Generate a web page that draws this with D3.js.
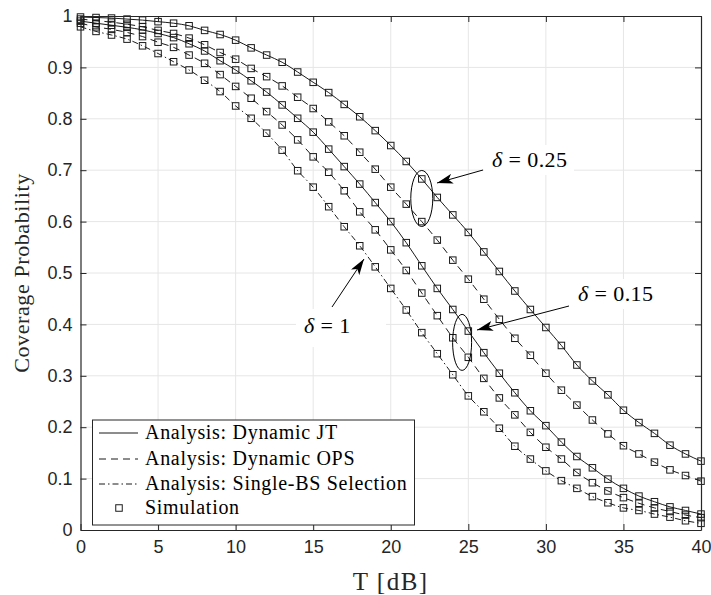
<!DOCTYPE html>
<html>
<head>
<meta charset="utf-8">
<script src="https://cdn.jsdelivr.net/npm/d3@7"></script>
<style>
  body { margin: 0; background: #fff; }
  svg text { fill: #262626; }
</style>
</head>
<body>
<div id="chart"></div>
<script>
// chart size
const width = 711;
const height = 595;
const margin = { top: 16, right: 10, bottom: 65, left: 80.5 };

// data: T in dB, coverage probability
const T = d3.range(0, 41);
const jt025 = [0.998,0.997,0.996,0.994,0.992,0.989,0.986,0.981,0.972,0.964,0.953,0.938,0.924,0.910,0.891,0.871,0.851,0.828,0.804,0.777,0.748,0.717,0.683,0.647,0.613,0.579,0.541,0.503,0.465,0.429,0.394,0.359,0.321,0.290,0.263,0.233,0.209,0.188,0.165,0.148,0.134];
const ops025 = [0.994,0.991,0.988,0.984,0.979,0.972,0.966,0.957,0.944,0.929,0.916,0.898,0.882,0.864,0.842,0.820,0.794,0.767,0.735,0.702,0.667,0.634,0.600,0.564,0.525,0.488,0.449,0.410,0.373,0.340,0.305,0.272,0.243,0.214,0.187,0.164,0.148,0.132,0.117,0.106,0.095];
const jt015 = [0.990,0.986,0.982,0.978,0.973,0.966,0.958,0.946,0.932,0.913,0.895,0.874,0.852,0.827,0.801,0.774,0.741,0.707,0.673,0.637,0.600,0.559,0.514,0.470,0.429,0.387,0.345,0.305,0.267,0.232,0.203,0.171,0.143,0.121,0.099,0.081,0.066,0.055,0.045,0.038,0.031];
const ops015 = [0.986,0.979,0.974,0.968,0.960,0.949,0.939,0.924,0.908,0.886,0.863,0.840,0.814,0.788,0.759,0.726,0.696,0.660,0.619,0.584,0.545,0.505,0.461,0.417,0.374,0.336,0.295,0.257,0.224,0.190,0.161,0.138,0.112,0.092,0.076,0.063,0.052,0.043,0.036,0.029,0.024];
const single = [0.979,0.970,0.963,0.955,0.942,0.927,0.911,0.895,0.875,0.853,0.825,0.801,0.772,0.739,0.699,0.667,0.629,0.590,0.553,0.512,0.470,0.428,0.384,0.343,0.302,0.261,0.230,0.198,0.163,0.138,0.115,0.096,0.081,0.065,0.053,0.043,0.038,0.031,0.025,0.018,0.013];

const xTicks = [0, 5, 10, 15, 20, 25, 30, 35, 40];
const yTicks = [0, 0.1, 0.2, 0.3, 0.4, 0.5, 0.6, 0.7, 0.8, 0.9, 1];

const series = [
  { values: jt025, dash: null },
  { values: ops025, dash: '7,5' },
  { values: jt015, dash: null },
  { values: ops015, dash: '7,5' },
  { values: single, dash: '6,3,1.5,3' }
];

const legendItems = [
  { label: 'Analysis: Dynamic JT', dash: null },
  { label: 'Analysis: Dynamic OPS', dash: '7,5' },
  { label: 'Analysis: Single-BS Selection', dash: '6,3,1.5,3' },
  { label: 'Simulation', marker: true }
];

const svg = d3.select('#chart')
  .append('svg')
  .attr('width', width)
  .attr('height', height);

const x = d3.scaleLinear().domain([0, 40]).range([margin.left, width - margin.right]);
const y = d3.scaleLinear().domain([0, 1]).range([height - margin.bottom, margin.top]);

const serif = '"Liberation Serif", "DejaVu Serif", serif';
const sans = '"Liberation Sans", Arial, sans-serif';

// grid
const grid = svg.append('g').attr('stroke', '#e6e6e6').attr('stroke-width', 1);
grid.selectAll('.gx').data(xTicks.slice(1, -1)).enter().append('line')
  .attr('x1', d => x(d)).attr('x2', d => x(d))
  .attr('y1', y(0)).attr('y2', y(1));
grid.selectAll('.gy').data(yTicks.slice(1, -1)).enter().append('line')
  .attr('x1', x(0)).attr('x2', x(40))
  .attr('y1', d => y(d)).attr('y2', d => y(d));

// curves
const line = d3.line()
  .x((d, i) => x(T[i]))
  .y(d => y(d))
  .curve(d3.curveMonotoneX);

svg.append('g').selectAll('path').data(series).enter().append('path')
  .attr('d', d => line(d.values))
  .attr('fill', 'none')
  .attr('stroke', '#000')
  .attr('stroke-width', 0.9)
  .attr('stroke-dasharray', d => d.dash);

// simulation markers
const ms = 6.5;
const markers = svg.append('g');
series.forEach(s => {
  markers.selectAll(null).data(s.values).enter().append('rect')
    .attr('x', (d, i) => x(T[i]) - ms / 2)
    .attr('y', d => y(d) - ms / 2)
    .attr('width', ms).attr('height', ms)
    .attr('fill', 'none')
    .attr('stroke', '#1a1a1a')
    .attr('stroke-width', 1);
});

// axes with inward ticks
const tl = 6;
const fmtY = d => d === 0 || d === 1 ? String(d) : d3.format('.1f')(d);
const ax = svg.append('g').attr('transform', `translate(0,${y(0)})`)
  .call(d3.axisBottom(x).tickValues(xTicks).tickSizeInner(-tl).tickSizeOuter(0).tickPadding(10));
const ay = svg.append('g').attr('transform', `translate(${x(0)},0)`)
  .call(d3.axisLeft(y).tickValues(yTicks).tickFormat(fmtY).tickSizeInner(-tl).tickSizeOuter(0).tickPadding(8));
const at = svg.append('g').attr('transform', `translate(0,${y(1)})`)
  .call(d3.axisTop(x).tickValues(xTicks).tickSizeInner(-tl).tickSizeOuter(0).tickFormat(''));
const ar = svg.append('g').attr('transform', `translate(${x(40)},0)`)
  .call(d3.axisRight(y).tickValues(yTicks).tickSizeInner(-tl).tickSizeOuter(0).tickFormat(''));
[ax, ay, at, ar].forEach(g => {
  g.select('.domain').attr('stroke', '#262626').attr('stroke-width', 1.2);
  g.selectAll('.tick line').attr('stroke', '#262626').attr('stroke-width', 1);
  g.selectAll('.tick text').attr('font-family', sans).attr('font-size', 18).attr('fill', '#262626');
});

// axis labels
svg.append('text')
  .attr('x', (x(0) + x(40)) / 2).attr('y', 590)
  .attr('text-anchor', 'middle')
  .attr('font-family', serif).attr('font-size', 25)
  .attr('letter-spacing', 1.5)
  .text('T [dB]');
svg.append('text')
  .attr('transform', `translate(29,${(y(0) + y(1)) / 2}) rotate(-90)`)
  .attr('text-anchor', 'middle')
  .attr('font-family', serif).attr('font-size', 22)
  .attr('letter-spacing', 0.6)
  .text('Coverage Probability');

// annotations
const defs = svg.append('defs');
defs.append('marker')
  .attr('id', 'ahead')
  .attr('viewBox', '0 -5 16 10')
  .attr('refX', 16).attr('refY', 0)
  .attr('markerUnits', 'userSpaceOnUse')
  .attr('markerWidth', 16).attr('markerHeight', 10)
  .attr('orient', 'auto')
  .append('path')
  .attr('d', 'M0,-5L16,0L0,5L4,0Z')
  .attr('fill', '#000');

const notes = [
  { text: '0.25', tx: 492, ty: 167, box: [484, 145, 90, 30],
    ellipse: [x(22), y(0.645), 11, 28], arrow: [483, 170, 437, 183] },
  { text: '0.15', tx: 578, ty: 301, box: [570, 279, 90, 30],
    ellipse: [x(24.6), y(0.365), 9.5, 28], arrow: [569, 306, 477, 330] },
  { text: '1', tx: 304, ty: 333, box: [296, 309, 90, 38],
    ellipse: null, arrow: [332, 307, 364, 259] }
];

const ng = svg.append('g');
notes.forEach(n => {
  ng.append('rect')
    .attr('x', n.box[0]).attr('y', n.box[1])
    .attr('width', n.box[2]).attr('height', n.box[3])
    .attr('fill', '#fff');
  const t = ng.append('text')
    .attr('x', n.tx).attr('y', n.ty)
    .attr('font-family', serif).attr('font-size', 22)
    .attr('letter-spacing', 0.4)
    .style('fill', '#000');
  t.append('tspan').attr('font-style', 'italic').text('δ');
  t.append('tspan').text(' = ' + n.text);
  if (n.ellipse) {
    ng.append('ellipse')
      .attr('cx', n.ellipse[0]).attr('cy', n.ellipse[1])
      .attr('rx', n.ellipse[2]).attr('ry', n.ellipse[3])
      .attr('fill', 'none').attr('stroke', '#000').attr('stroke-width', 1);
  }
  ng.append('line')
    .attr('x1', n.arrow[0]).attr('y1', n.arrow[1])
    .attr('x2', n.arrow[2]).attr('y2', n.arrow[3])
    .attr('stroke', '#000').attr('stroke-width', 1)
    .attr('marker-end', 'url(#ahead)');
});

// legend
const lg = svg.append('g');
lg.append('rect')
  .attr('x', 92.5).attr('y', 420).attr('width', 322).attr('height', 105)
  .attr('fill', '#fff').attr('stroke', '#262626').attr('stroke-width', 1);
const rowY = [433, 459, 484, 508];
legendItems.forEach((it, i) => {
  const cy = rowY[i];
  if (it.marker) {
    lg.append('rect')
      .attr('x', 119 - ms / 2).attr('y', cy - ms / 2)
      .attr('width', ms).attr('height', ms)
      .attr('fill', 'none').attr('stroke', '#1a1a1a').attr('stroke-width', 1);
  } else {
    lg.append('line')
      .attr('x1', 99).attr('x2', 138).attr('y1', cy).attr('y2', cy)
      .attr('stroke', '#000').attr('stroke-width', 0.9)
      .attr('stroke-dasharray', it.dash);
  }
  lg.append('text')
    .attr('x', 145).attr('y', cy + 6)
    .attr('font-family', serif).attr('font-size', 20)
    .attr('letter-spacing', 0.7)
    .style('fill', '#000')
    .text(it.label);
});
</script>
</body>
</html>
